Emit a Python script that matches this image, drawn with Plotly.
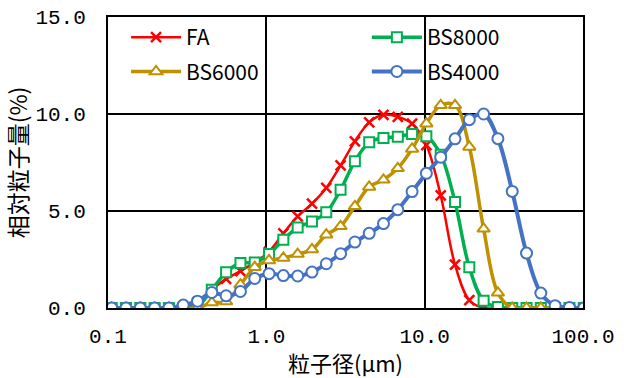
import plotly.graph_objects as go

# particle diameter channels (µm)
diameter = [0.1055, 0.1299, 0.1600, 0.1970, 0.2425, 0.2986, 0.3676, 0.4526, 0.5572, 0.6862,
            0.8449, 1.040, 1.281, 1.577, 1.942, 2.391, 2.944, 3.625, 4.463, 5.495,
            6.766, 8.327, 10.25, 12.63, 15.55, 19.14, 23.57, 29.01, 35.73, 43.99,
            54.16, 66.68, 82.10, 101.1]

fa = [0, 0, 0, 0, 0, 0, 0.3, 0.95, 1.5, 1.9,
      2.35, 2.9, 3.85, 4.72, 5.38, 6.19, 7.35, 8.59, 9.57, 9.96,
      9.85, 9.5, 8.4, 5.8, 2.23, 0.4, 0, 0, 0, 0,
      0, 0, 0, 0]
bs8000 = [0, 0, 0, 0, 0, 0, 0.1, 0.94, 1.84, 2.32,
          2.35, 2.78, 3.52, 4.15, 4.46, 4.93, 6.1, 7.56, 8.54, 8.76,
          8.83, 8.97, 8.85, 7.9, 5.46, 2.1, 0.38, 0.05, 0, 0,
          0, 0, 0, 0]
bs6000 = [0, 0, 0, 0, 0, 0, 0, 0.28, 0.33, 1.2,
          2.1, 2.45, 2.58, 2.78, 3.02, 3.78, 4.21, 5.24, 6.24, 6.61,
          7.2, 8.2, 9.5, 10.45, 10.45, 8.3, 4.08, 0.78, 0, 0,
          0, 0, 0, 0]
bs4000 = [0, 0, 0, 0, 0, 0.15, 0.35, 0.8, 0.63, 0.85,
          1.52, 1.77, 1.67, 1.65, 1.85, 2.28, 2.8, 3.4, 3.85, 4.35,
          5.07, 6.0, 6.94, 7.77, 8.72, 9.71, 10.0, 8.73, 6.01, 2.83,
          0.77, 0.12, 0.03, 0]

x_tickvals = [0.1, 1, 10, 100]
x_ticktext = ["0.1", "1.0", "10.0", "100.0"]
y_tickvals = [0, 5, 10, 15]
y_ticktext = ["0.0", "5.0", "10.0", "15.0"]

FONT = "Noto Sans CJK JP"
TICKFONT = "Liberation Mono"

series = [
    ("FA", fa, "#FF0000", dict(symbol="x-thin", size=10, color="#FF0000",
                                line=dict(color="#FF0000", width=2.5)), 2.5, "legend"),
    ("BS8000", bs8000, "#00B050", dict(symbol="square", size=10, color="white",
                                       line=dict(color="#00B050", width=2)), 3.5, "legend2"),
    ("BS6000", bs6000, "#BF9000", dict(symbol="triangle-up", size=11, color="white",
                                       line=dict(color="#BF9000", width=2)), 3.5, "legend"),
    ("BS4000", bs4000, "#4472C4", dict(symbol="circle", size=11, color="white",
                                       line=dict(color="#4472C4", width=2)), 4, "legend2"),
]

fig = go.Figure()
for name, vals, col, mk, lw, lg in series:
    fig.add_trace(go.Scatter(
        x=diameter, y=vals, name=name, mode="lines+markers",
        line=dict(color=col, width=lw, shape="spline", smoothing=1),
        marker=mk, legend=lg, legendgroup=name,
    ))

legend_common = dict(
    font=dict(family=FONT, size=21, color="black"),
    bgcolor="rgba(0,0,0,0)", borderwidth=0,
    yanchor="top", xanchor="left", tracegroupgap=4,
    itemwidth=50,
)

fig.update_layout(
    width=624, height=378,
    margin=dict(l=108, r=41, t=17, b=70, autoexpand=False),
    paper_bgcolor="white", plot_bgcolor="white",
    font=dict(family=FONT, size=20, color="black"),
    showlegend=True,
    legend=dict(x=0.038, y=1.0, **legend_common),
    legend2=dict(x=0.545, y=1.0, **legend_common),
    xaxis=dict(
        type="log", range=[-1, 2], automargin=False,
        tickvals=x_tickvals, ticktext=x_ticktext,
        showgrid=True, gridcolor="black", gridwidth=1.5,
        showline=True, linecolor="black", linewidth=2, mirror=True,
        ticks="", ticklabelstandoff=8,
        tickfont=dict(family=TICKFONT, size=21, color="black"),
        title=dict(text="粒子径(μm)", font=dict(family=FONT, size=22, color="black"), standoff=10),
        zeroline=False,
    ),
    yaxis=dict(
        range=[0, 15], automargin=False,
        tickvals=y_tickvals, ticktext=y_ticktext,
        showgrid=True, gridcolor="black", gridwidth=1.5,
        showline=True, linecolor="black", linewidth=2, mirror=True,
        ticks="", ticklabelstandoff=16,
        tickfont=dict(family=TICKFONT, size=21, color="black"),
        title=dict(text="相対粒子量(%)", font=dict(family=FONT, size=23, color="black"), standoff=4),
        zeroline=False,
    ),
)

fig.write_html("out.html")
